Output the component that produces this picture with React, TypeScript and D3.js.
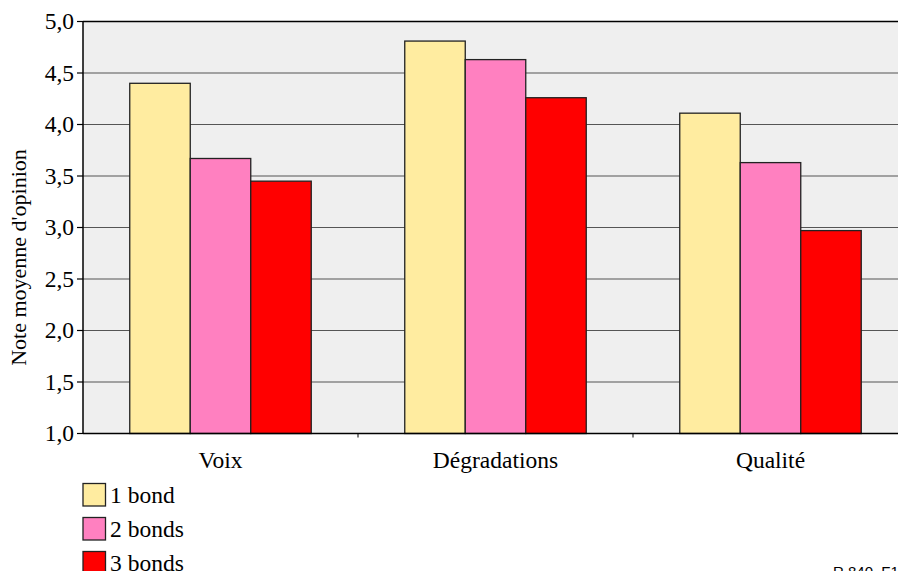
import React from "react";
import * as d3 from "d3";

const categories = ["Voix", "Dégradations", "Qualité"];
const seriesNames = ["1 bond", "2 bonds", "3 bonds"];
const oneHop = [4.4, 4.81, 4.11];
const twoHops = [3.67, 4.63, 3.63];
const threeHops = [3.45, 4.26, 2.97];
const yTicks = [1.0, 1.5, 2.0, 2.5, 3.0, 3.5, 4.0, 4.5, 5.0];
const seriesColors = ["#ffeca0", "#ff80c0", "#ff0000"];

const W = 898;
const H = 571;
const plot = { left: 83, top: 21.5, right: 908, bottom: 433.5 };

export default function App() {
  const series = [oneHop, twoHops, threeHops];
  const y = d3.scaleLinear().domain([1, 5]).range([plot.bottom, plot.top]);
  const x0 = d3
    .scaleBand<string>()
    .domain(categories)
    .range([plot.left, plot.right])
    .paddingInner(0.34)
    .paddingOuter(0.17);
  const x1 = d3
    .scaleBand<string>()
    .domain(seriesNames)
    .range([0, x0.bandwidth()]);
  const fmt = (v: number) => d3.format(".1f")(v).replace(".", ",");
  const step = x0.step();
  const boundaries = categories.map((_, i) => plot.left + step * i);
  const fs = 23.5;

  return (
    <svg
      width={W}
      height={H}
      style={{ position: "absolute", left: 0, top: 0, background: "#fff" }}
      fontFamily="'Liberation Serif', 'Times New Roman', serif"
    >
      <rect
        x={plot.left}
        y={plot.top}
        width={plot.right - plot.left}
        height={plot.bottom - plot.top}
        fill="#efefef"
      />
      {yTicks.map((t) => (
        <g key={t}>
          {t > 1 && (
            <line
              x1={plot.left}
              x2={plot.right}
              y1={y(t)}
              y2={y(t)}
              stroke={t === 5 ? "#000" : "#555"}
              strokeWidth={t === 5 ? 1.5 : 1.2}
            />
          )}
          <line x1={plot.left - 6} x2={plot.left} y1={y(t)} y2={y(t)} stroke="#000" strokeWidth={1.2} />
          <text x={plot.left - 9} y={y(t)} dy="0.34em" textAnchor="end" fontSize={fs} fill="#000">
            {fmt(t)}
          </text>
        </g>
      ))}
      {categories.map((c, ci) => (
        <g key={c}>
          {series.map((vals, si) => {
            const bx = (x0(c) as number) + (x1(seriesNames[si]) as number);
            return (
              <rect
                key={si}
                x={bx}
                y={y(vals[ci])}
                width={x1.bandwidth()}
                height={y(1) - y(vals[ci])}
                fill={seriesColors[si]}
                stroke="#222"
                strokeWidth={1.3}
              />
            );
          })}
          <text
            x={(x0(c) as number) + x0.bandwidth() / 2}
            y={plot.bottom + 34}
            textAnchor="middle"
            fontSize={fs}
            fill="#000"
          >
            {c}
          </text>
        </g>
      ))}
      {boundaries.map((bx, i) =>
        i > 0 ? (
          <line key={i} x1={bx} x2={bx} y1={plot.bottom} y2={plot.bottom + 4} stroke="#555" strokeWidth={1.5} />
        ) : null
      )}
      <line x1={plot.left} x2={plot.left} y1={plot.top} y2={plot.bottom} stroke="#000" strokeWidth={1.5} />
      <line x1={plot.left} x2={plot.right} y1={plot.bottom} y2={plot.bottom} stroke="#000" strokeWidth={1.5} />
      <text
        transform={`translate(26,${(plot.top + plot.bottom) / 2 + 30}) rotate(-90)`}
        textAnchor="middle"
        fontSize={22}
        fill="#000"
      >
        Note moyenne d'opinion
      </text>
      {seriesNames.map((n, i) => (
        <g key={n} transform={`translate(83,${483.5 + i * 34})`}>
          <rect x={0} y={0} width={22.5} height={22.5} fill={seriesColors[i]} stroke="#222" strokeWidth={1.3} />
          <text x={27} y={19} fontSize={fs} fill="#000">
            {n}
          </text>
        </g>
      ))}
      <text x={833} y={577} fontSize={15} fontFamily="'Liberation Sans', Arial, sans-serif" fill="#000">
        R.840_F1
      </text>
    </svg>
  );
}
